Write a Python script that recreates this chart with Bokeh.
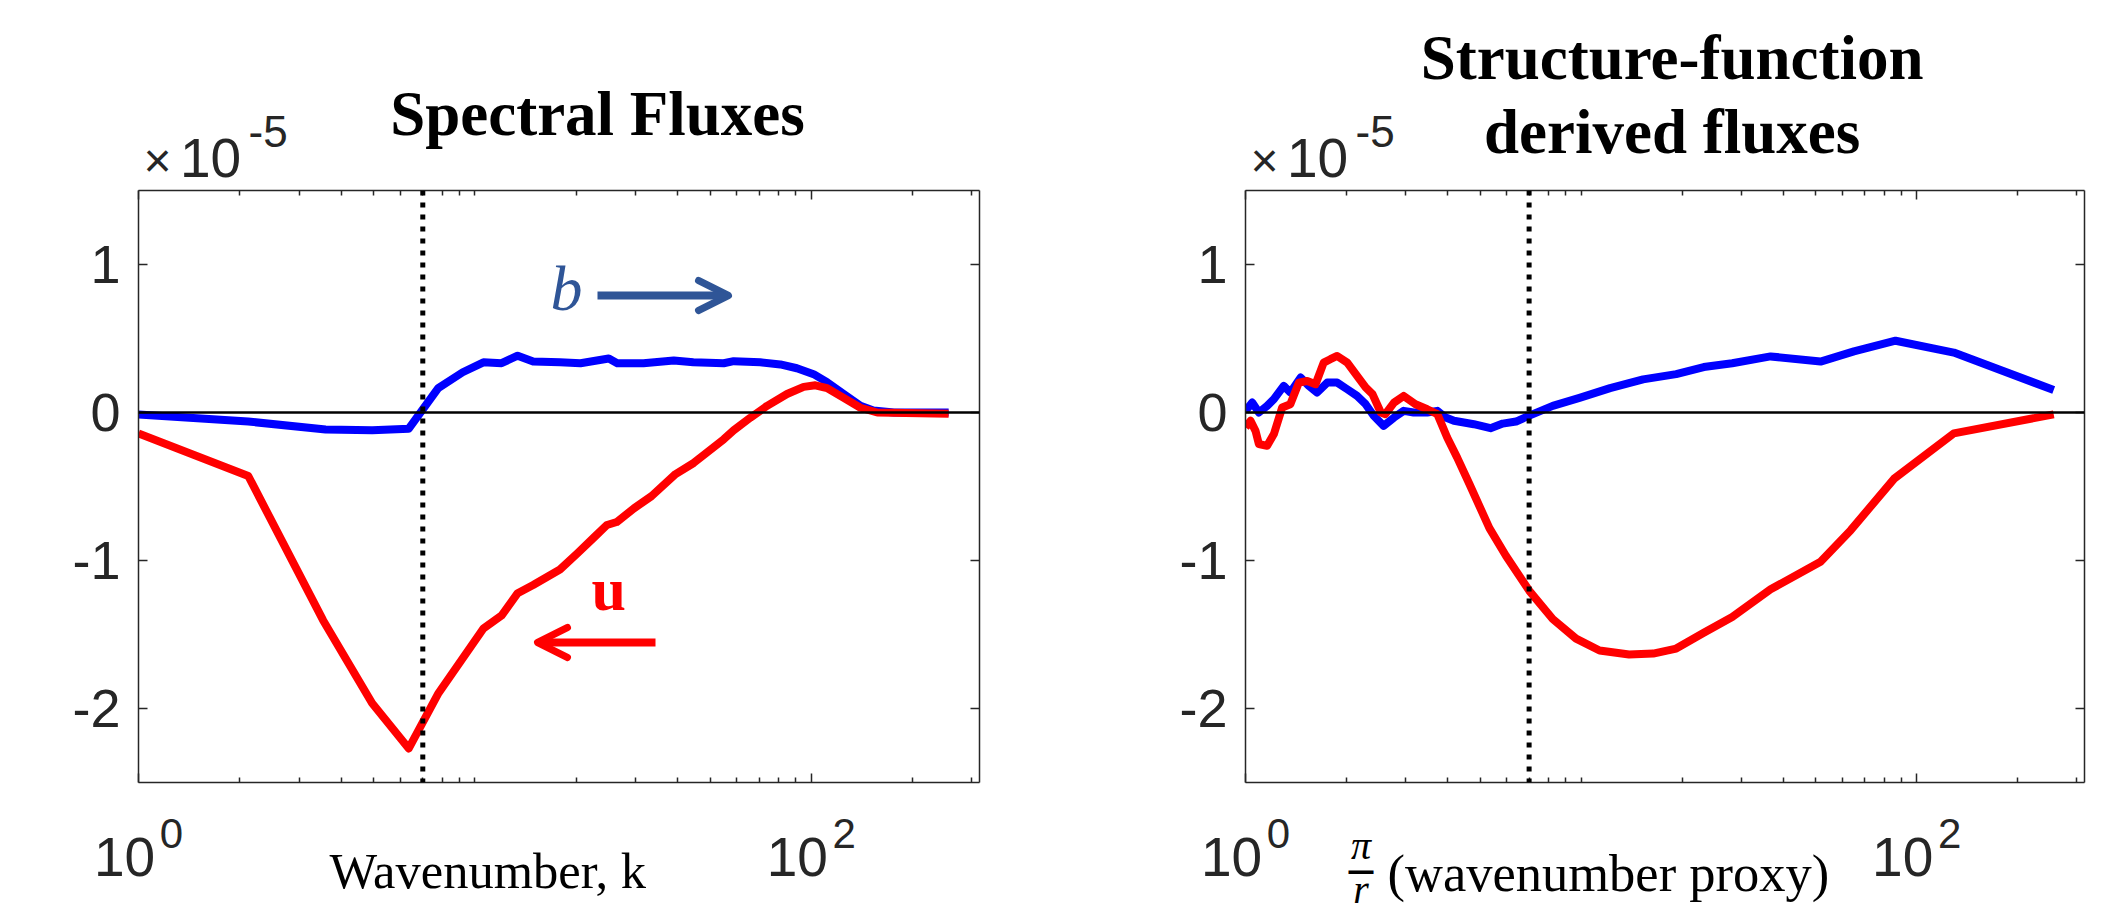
from bokeh.plotting import figure
from bokeh.models import (Range1d, LogAxis, LinearAxis, FixedTicker, Span, Label,
                          Arrow, OpenHead)
from bokeh.layouts import row, column
from bokeh.embed import file_html
from bokeh.resources import INLINE

# ---------------- data ----------------
# Left panel: spectral fluxes
spec_k_blue = [1, 2.12, 3.6, 4.95, 6.36, 7.78, 9.2, 10.6, 12.0, 13.4, 14.9, 17.9, 20.6, 25.0,
               26.5, 31.7, 39.0, 44.6, 54.9, 58.8, 70.5, 80.9, 90.6, 101.6, 111.4, 124.8,
               140, 153, 176, 256]
spec_b_flux = [-0.013, -0.061, -0.115, -0.12, -0.109, 0.165, 0.272, 0.339, 0.333, 0.384,
               0.344, 0.339, 0.333, 0.365, 0.333, 0.333, 0.352, 0.339, 0.333, 0.347, 0.339,
               0.325, 0.299, 0.259, 0.205, 0.125, 0.045, 0.013, 0.0, 0.0]
spec_k_red = [1, 2.12, 3.54, 4.95, 6.36, 7.8, 10.6, 12.0, 13.4, 14.9, 17.9, 20.2, 22.5, 24.7,
              26.4, 29.7, 33.5, 39.5, 44.7, 49.0, 54.9, 58.8, 65.9, 73.9, 84.7, 94.9, 102.8,
              111.4, 124.8, 140, 157, 256]
spec_u_flux = [-0.141, -0.429, -1.405, -1.965, -2.27, -1.895, -1.46, -1.372, -1.221, -1.166,
               -1.061, -0.95, -0.848, -0.76, -0.74, -0.648, -0.565, -0.416, -0.341, -0.27,
               -0.181, -0.12, -0.035, 0.045, 0.125, 0.173, 0.184, 0.165, 0.099, 0.032, 0.0,
               -0.008]

# Right panel: structure-function derived fluxes
sf_k_blue = [1, 1.047, 1.096, 1.16, 1.215, 1.30, 1.36, 1.46, 1.545, 1.635, 1.752, 1.876, 2.01,
             2.15, 2.28, 2.41, 2.58, 2.77, 2.96, 3.17, 3.48, 3.73, 3.95, 4.18, 4.79, 5.37,
             5.84, 6.4, 7.01, 8.23, 9.89, 12.2, 15.3, 19.2, 23.2, 28.2, 36.7, 51.7, 65.0,
             86.5, 129, 256]
sf_b_flux = [0.011, 0.067, 0.0, 0.045, 0.09, 0.18, 0.135, 0.236, 0.18, 0.135, 0.202, 0.202,
             0.157, 0.112, 0.056, -0.022, -0.09, -0.034, 0.011, 0.0, 0.0, 0.011, -0.034,
             -0.056, -0.079, -0.106, -0.075, -0.061, -0.021, 0.045, 0.099, 0.165, 0.224,
             0.259, 0.307, 0.333, 0.379, 0.344, 0.413, 0.485, 0.405, 0.152]
sf_k_red = [1, 1.035, 1.071, 1.096, 1.16, 1.215, 1.286, 1.36, 1.442, 1.527, 1.617, 1.71, 1.79,
            1.876, 2.01, 2.15, 2.28, 2.39, 2.53, 2.61, 2.77, 2.96, 3.21, 3.48, 3.73, 3.99,
            4.27, 4.64, 5.33, 5.97, 7.01, 8.23, 9.66, 11.35, 13.9, 16.4, 19.2, 23.2, 28.2,
            36.7, 51.7, 63.6, 85.6, 129, 256]
sf_u_flux = [-0.101, -0.056, -0.124, -0.213, -0.225, -0.146, 0.034, 0.056, 0.202, 0.213,
             0.191, 0.337, 0.36, 0.382, 0.337, 0.247, 0.169, 0.124, 0.0, -0.011, 0.067,
             0.112, 0.056, 0.022, -0.011, -0.169, -0.303, -0.48, -0.781, -0.968, -1.205,
             -1.395, -1.528, -1.608, -1.635, -1.629, -1.595, -1.488, -1.381, -1.195, -1.008,
             -0.795, -0.448, -0.141, -0.013]

# axes / ticks
x_limits = [1, 10 ** 2.5]
y_limits = [-2.5, 1.5]
x_major_ticks = [1, 100]
x_tick_base = ["10", "10"]
x_tick_exp = ["0", "2"]
x_minor_ticks = [2, 3, 4, 5, 6, 7, 8, 9, 10, 20, 30, 40, 50, 60, 70, 80, 90, 200, 300]
y_major_ticks = [-2, -1, 0, 1]
y_tick_labels = ["-2", "-1", "0", "1"]
k_marker = 7.0
scale_times = "\u00d7"
scale_base = "10"
scale_exp = "-5"

titles_left = ["Spectral Fluxes"]
titles_right = ["Structure-function", "derived fluxes"]
xlabel_left = "Wavenumber, k"
xlabel_right = "(wavenumber proxy)"
frac_num, frac_bar, frac_den = "\u03c0", "\u2014", "r"

BLUE = "#0000FF"
RED = "#FF0000"
ANN_BLUE = "#2F5597"
AXC = "#262626"
TICK_FONT = "Liberation Sans"
SERIF = "Liberation Serif"

CANVAS_H = 914
FRAME_H = 592
PAD_TOP = 2      # main figure border above the frame
PAD_BOT = 10     # main figure border below the frame
TOP_H = 190 - PAD_TOP          # text strip above each panel
BOT_H = CANVAS_H - 782 - PAD_BOT  # text strip below each panel
BASELINE_FIX = 0.34   # Bokeh places "alphabetic" text ~0.34 em lower than the given y


def no_align(p):
    try:
        p.frame_align = False
    except Exception:
        pass
    try:
        p.title_location = None
    except Exception:
        pass


def style_axis(ax, labels):
    ax.axis_line_color = AXC
    ax.axis_line_width = 1.5
    ax.major_tick_line_color = AXC
    ax.minor_tick_line_color = AXC
    ax.major_tick_line_width = 1.5
    ax.minor_tick_line_width = 1.5
    ax.major_tick_in = 9
    ax.major_tick_out = 0
    ax.minor_tick_in = 5
    ax.minor_tick_out = 0
    ax.major_label_text_font = TICK_FONT
    ax.major_label_text_color = AXC
    if labels:
        ax.major_label_text_font_size = "54px"
    else:
        ax.major_label_text_font_size = "0px"
        ax.major_label_standoff = 0
        ax.major_label_overrides = {t: "" for t in ax.ticker.ticks}


def label(p, x, y, text, size, font=SERIF, style="normal", color="black", align="left",
          x_units="screen", x_offset=0):
    p.add_layout(Label(x=x, y=y + BASELINE_FIX * size, x_units=x_units, y_units="screen",
                       text=text, x_offset=x_offset,
                       text_font=font, text_font_size=f"{size}px", text_font_style=style,
                       text_color=color, text_align=align, text_baseline="alphabetic"))


def text_fig(width, height, x_range=None, log=False):
    kw = dict(width=width, height=height, min_border_left=0, min_border_right=0,
              min_border_top=0, min_border_bottom=0, toolbar_location=None,
              output_backend="svg", outline_line_color=None, x_axis_location=None,
              y_axis_location=None, background_fill_color="white",
              border_fill_color="white")
    if log:
        kw["x_axis_type"] = "log"
    p = figure(x_range=x_range if x_range is not None else Range1d(0, width),
               y_range=Range1d(0, height), **kw)
    p.grid.visible = False
    no_align(p)
    return p


def make_panel(kb, vb, kr, vr, border_left, border_right, frame_w, titles, title_cx,
               title_baselines):
    total_w = border_left + frame_w + border_right
    p = figure(x_axis_type="log", x_range=Range1d(*x_limits), y_range=Range1d(*y_limits),
               width=total_w, height=FRAME_H + PAD_TOP + PAD_BOT,
               min_border_left=border_left, min_border_right=border_right,
               min_border_top=PAD_TOP, min_border_bottom=PAD_BOT,
               output_backend="svg", toolbar_location=None,
               background_fill_color="white", border_fill_color="white",
               outline_line_color=None)
    p.grid.visible = False
    no_align(p)

    xa = p.xaxis[0]
    xa.ticker = FixedTicker(ticks=x_major_ticks, minor_ticks=x_minor_ticks)
    style_axis(xa, False)

    ya = p.yaxis[0]
    ya.ticker = FixedTicker(ticks=y_major_ticks, minor_ticks=[])
    style_axis(ya, True)
    ya.major_label_overrides = dict(zip(y_major_ticks, y_tick_labels))
    ya.major_label_standoff = 18

    top = LogAxis(ticker=FixedTicker(ticks=x_major_ticks, minor_ticks=x_minor_ticks))
    style_axis(top, False)
    p.add_layout(top, "above")
    right = LinearAxis(ticker=FixedTicker(ticks=y_major_ticks, minor_ticks=[]))
    style_axis(right, False)
    p.add_layout(right, "right")

    p.line(kb, vb, line_color=BLUE, line_width=8, line_join="round")
    p.line(kr, vr, line_color=RED, line_width=8, line_join="round")

    p.add_layout(Span(location=0, dimension="width", line_color="black", line_width=2.5))
    p.add_layout(Span(location=k_marker, dimension="height", line_color="black",
                      line_width=5, line_dash="5 7"))

    # ---- strip above: titles and the x10^-5 scale factor
    top_fig = text_fig(total_w, TOP_H)
    for t, yb in zip(titles, title_baselines):
        label(top_fig, title_cx, TOP_H - yb, t, 63, style="bold", align="center")
    label(top_fig, border_left + 5, TOP_H - 176, scale_times, 48, font=TICK_FONT, color=AXC)
    label(top_fig, border_left + 41.5, TOP_H - 176, scale_base, 55, font=TICK_FONT,
          color=AXC)
    label(top_fig, border_left + 110, TOP_H - 146, scale_exp, 44, font=TICK_FONT,
          color=AXC)

    # ---- strip below: x tick labels placed through a log scale aligned with the panel
    ppd = frame_w / 2.5
    lo = 10 ** (-border_left / ppd)
    hi = 10 ** ((total_w - border_left) / ppd)
    bot_fig = text_fig(total_w, BOT_H, x_range=Range1d(lo, hi), log=True)
    base_y = CANVAS_H - 875
    exp_y = CANVAS_H - 847
    for tk, b, e in zip(x_major_ticks, x_tick_base, x_tick_exp):
        label(bot_fig, tk, base_y, b, 55, font=TICK_FONT, color=AXC, align="center",
              x_units="data", x_offset=-14)
        label(bot_fig, tk, exp_y, e, 42, font=TICK_FONT, color=AXC, align="center",
              x_units="data", x_offset=33)
    return p, top_fig, bot_fig


p1, t1, b1 = make_panel(spec_k_blue, spec_b_flux, spec_k_red, spec_u_flux, 138, 81, 841,
                        titles_left, 597, [135])
p2, t2, b2 = make_panel(sf_k_blue, sf_b_flux, sf_k_red, sf_u_flux, 185, 37, 839,
                        titles_right, 611.6, [79, 153])

# left panel annotations (inside the axes)
label(p1, 412, 472, "b", 64, style="italic", color=ANN_BLUE)
p1.add_layout(Arrow(end=OpenHead(size=30, line_color=ANN_BLUE, line_width=7,
                                 line_cap="round", line_join="round"),
                    x_start=459, y_start=487, x_end=590, y_end=487,
                    start_units="screen", end_units="screen",
                    line_color=ANN_BLUE, line_width=8))
label(p1, 453, 172, "u", 62, style="bold", color=RED)
p1.add_layout(Arrow(end=OpenHead(size=30, line_color=RED, line_width=7,
                                 line_cap="round", line_join="round"),
                    x_start=517, y_start=140, x_end=399, y_end=140,
                    start_units="screen", end_units="screen",
                    line_color=RED, line_width=8))

# x axis labels
label(b1, 329, CANVAS_H - 888, xlabel_left, 50.5)
label(b2, 327, CANVAS_H - 890, xlabel_right, 52.5)
label(b2, 300.5, CANVAS_H - 859, frac_num, 40, style="italic", align="center")
label(b2, 300.5, CANVAS_H - 880, frac_bar, 28, font="DejaVu Sans", style="bold",
      align="center")
label(b2, 300.5, CANVAS_H - 903, frac_den, 40, style="italic", align="center")

layout = row(column(t1, p1, b1), column(t2, p2, b2))
open("out.html", "w").write(file_html(layout, INLINE))
